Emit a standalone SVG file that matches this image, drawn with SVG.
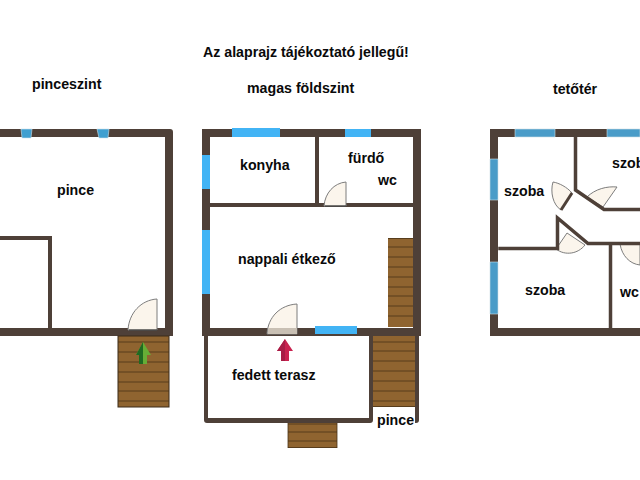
<svg xmlns="http://www.w3.org/2000/svg" width="640" height="480" viewBox="0 0 640 480">
<defs>
<style>
.w{fill:#4e4038}
.ws{fill:none;stroke:#4e4038;stroke-linecap:square}
.b1{fill:#3f9fd0;stroke:#cfe3ec;stroke-width:.6}
.b2{fill:#42b4f5}
.b3{fill:#4a9cc8;stroke:#cfdfe6;stroke-width:.6}
.st{fill:#8f6430;stroke:#3b2b18;stroke-width:1}
.tr{stroke:#4a3418;stroke-width:.8}
.d{fill:#fbf5ec;stroke:#7d7d7d;stroke-width:1}
text{font-family:"Liberation Sans",Arial,sans-serif;font-weight:700;font-size:14.2px;fill:#0a0a0a}
</style>
</defs>
<rect width="640" height="480" fill="#fff"/>
<g id="titles">
<text x="203" y="57">Az alaprajz tájékoztató jellegű!</text>
<text x="32" y="89">pinceszint</text>
<text x="247" y="93">magas földszint</text>
<text x="553" y="94">tetőtér</text>
</g>
<g id="pinceszint">
<path class="w" d="M0 129H170Q173 129 173 132V336H0V328H165V137H0Z"/>
<rect class="w" x="0" y="236" width="52" height="4"/>
<rect class="w" x="48" y="236" width="4" height="92"/>
<path class="b1" d="M21 129H32L31 138H22Z"/>
<path class="b1" d="M97 129H109L108 138H99Z"/>
<path class="d" d="M128 330C129 313 141 300 157 299V330Z"/>
<path d="M129 330H157" stroke="#333" stroke-width="1"/>
<g id="pince-lepcso">
<rect class="st" x="118" y="336" width="51" height="71"/>
<path class="tr" d="M118 342H169M118 352H169M118 362H169M118 372H169M118 382H169M118 391H169M118 401H169"/>
</g>
<path d="M143 342L151 355H147V364H139V355H136Z" fill="#67ad36"/>
<path d="M143 342L136 355H139V364H143Z" fill="#1f6a22"/>
<text x="57" y="195">pince</text>
</g>
<g id="magas-foldszint">
<path class="w" d="M202 129H421V336H202ZM210 137V328H413V137Z" fill-rule="evenodd"/>
<rect class="w" x="315" y="137" width="4" height="67"/>
<rect class="w" x="210" y="203" width="203" height="4"/>
<rect class="b2" x="232" y="128" width="48" height="9"/>
<rect class="b2" x="345" y="129" width="26" height="8"/>
<rect class="b2" x="202" y="155" width="8" height="34"/>
<rect class="b2" x="202" y="230" width="8" height="64"/>
<rect class="b2" x="315" y="326" width="42" height="8"/>
<path class="d" d="M324 206C325 193 334 183 346 182V206Z"/>
<path d="M325 206H346" stroke="#333" stroke-width="1"/>
<path class="d" d="M267 334C268 317 280 305 297 304V334Z"/>
<rect x="268" y="328" width="29" height="6" fill="#c9c0b4"/>
<g id="belso-lepcso">
<rect x="388" y="238" width="25" height="89" fill="#8f6430"/>
<path class="tr" d="M388 238.500H413M388 247H413M388 257H413M388 267H413M388 277H413M388 287H413M388 296H413M388 306H413M388 316H413"/>
</g>
<g id="terasz">
<path class="w" d="M204 336H208V418H369V336H373V420Q373 423 370 423H207Q204 423 204 420Z"/>
<path class="w" d="M415 336H419V420Q419 423 416 423H415Z"/>
<rect x="373" y="336" width="42" height="71" fill="#8f6430"/>
<path class="tr" d="M373 342H415M373 351H415M373 361H415M373 371H415M373 381H415M373 391H415M373 401H415M373 406.500H415"/>
<rect x="288" y="423" width="49" height="25" fill="#8f6430"/>
<path class="tr" d="M288 424H337M288 432H337M288 441H337M288 447.500H337M288 423V448M337 423V448"/>
</g>
<path d="M285 339L293 351H289V361H281V351H277Z" fill="#c9224f"/>
<path d="M285 339L277 351H281V361H285Z" fill="#a81c45"/>
<text x="240" y="170">konyha</text>
<text x="348" y="163">fürdő</text>
<text x="378" y="185">wc</text>
<text x="238" y="264">nappali étkező</text>
<text x="232" y="380">fedett terasz</text>
<text x="377" y="425">pince</text>
</g>
<g id="tetoter">
<path class="w" d="M490 129H640V137H498V328H640V336H490Z"/>
<path class="b3" d="M515 129H555V137H515Z"/>
<path class="b3" d="M607 129H640V137H607Z"/>
<path class="b3" d="M490 159H498V200H490Z"/>
<path class="b3" d="M490 262H498V314H490Z"/>
<path class="d" d="M553 182C559 183 567 187 572 193L561 210C553 205 550 192 553 182Z"/>
<path class="d" d="M587 197C595 189 607 186 617 187L603 207Z"/>
<path class="d" d="M556 249C565 256 578 254 585 245L567 233Z"/>
<path class="d" d="M620 244C622 256 630 264 640 265V244Z"/>
<path class="ws" stroke-width="3.500" d="M575.500 137V190L604 209.500H640"/>
<path class="ws" stroke-width="3.500" d="M500 248.500H557.500V218L588 243.500H640"/>
<path class="ws" stroke-width="3.500" d="M610.500 245V328"/>
<path d="M561 210L572 193" stroke="#4e4038" stroke-width="3"/>
<text x="504" y="196">szoba</text>
<text x="612" y="168">szoba</text>
<text x="525" y="295">szoba</text>
<text x="620" y="297">wc</text>
</g>
</svg>
